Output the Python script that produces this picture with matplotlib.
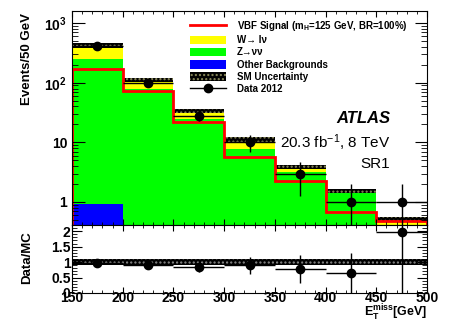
import numpy as np
import matplotlib
matplotlib.use('Agg')
import matplotlib.pyplot as plt
from matplotlib import ticker
from matplotlib.patches import Patch
from matplotlib.lines import Line2D

plt.rcParams['font.family'] = ['Liberation Sans', 'DejaVu Sans']
plt.rcParams['mathtext.fontset'] = 'custom'
plt.rcParams['mathtext.rm'] = 'Liberation Sans'
plt.rcParams['mathtext.bf'] = 'Liberation Sans:bold'
plt.rcParams['mathtext.it'] = 'Liberation Sans:italic'
plt.rcParams['hatch.linewidth'] = 1.0

# E_T^miss bins [GeV]
edges = [150, 200, 250, 300, 350, 400, 450, 500]
data_2012 = [412, 98, 28, 10, 3, 1, 1]
z_nunu = [245, 77.7, 24.4, 7.6, 3.16, 1.38, 0.32]
w_lnu = [180, 32, 9.2, 3.55, 0.68, 0.14, 0.18]
other_bkg = [0.91, 0.3, 0.1, 0.05, 0.02, 0.01, 0.01]
vbf_signal = [170, 72, 21.9, 5.7, 2.25, 0.67, 0.48]
sm_rel_unc = [0.09, 0.08, 0.07, 0.08, 0.08, 0.09, 0.1]
ratio_band = 0.09

edges = np.array(edges, dtype=float)
centers = 0.5 * (edges[1:] + edges[:-1])
data = np.array(data_2012, dtype=float)
other = np.array(other_bkg)
green_top = other + np.array(z_nunu)
total = green_top + np.array(w_lnu)
unc = np.array(sm_rel_unc)

fig = plt.figure(figsize=(4.5, 3.23), dpi=100)
ax = fig.add_axes([0.16, 0.3034, 0.7889, 0.6625])
rax = fig.add_axes([0.16, 0.0929, 0.7889, 0.2105])

# stacked backgrounds, ROOT style (each drawn from the bottom)
base = 1e-3
ax.stairs(total, edges, baseline=base, fill=True, color='#ffff00')
ax.stairs(green_top, edges, baseline=base, fill=True, color='#00ff00')
ax.stairs(other, edges, baseline=base, fill=True, color='#0000ff')
ax.bar(centers, 2 * unc * total, bottom=total * (1 - unc), width=50,
       color='black', edgecolor='#8a8a5a', hatch='....', linewidth=0)
ax.stairs(vbf_signal, edges, baseline=base, color='#ff0000', lw=2)

yerr_lo = np.minimum(np.sqrt(data), data - 1e-4)
ax.errorbar(centers, data, xerr=25, yerr=[yerr_lo, np.sqrt(data)], fmt='o',
            color='black', ms=6, lw=1, capsize=0)

ax.set_yscale('log')
ax.set_xlim(150, 500)
ax.set_ylim(0.41, 1600)
ax.yaxis.set_major_locator(ticker.FixedLocator([1, 10, 100, 1000]))
ax.yaxis.set_major_formatter(ticker.FixedFormatter(
    ['1', '10', r'$\mathbf{10^{2}}$', r'$\mathbf{10^{3}}$']))
ax.yaxis.set_minor_locator(ticker.LogLocator(subs=np.arange(2, 10)))
ax.yaxis.set_minor_formatter(ticker.NullFormatter())
ax.xaxis.set_major_locator(ticker.MultipleLocator(50))
ax.xaxis.set_minor_locator(ticker.MultipleLocator(10))
ax.tick_params(which='both', direction='in', top=True, right=True,
               labelbottom=False, labelsize=10)
ax.tick_params(axis='y', which='major', length=9)
ax.tick_params(axis='y', which='minor', length=4.5)
ax.tick_params(axis='x', which='major', length=4)
ax.tick_params(axis='x', which='minor', length=2)
for lab in ax.get_yticklabels():
    lab.set_fontweight('bold')

handles = [
    Line2D([], [], color='#ff0000', lw=2),
    Patch(facecolor='#ffff00'),
    Patch(facecolor='#00ff00'),
    Patch(facecolor='#0000ff'),
    Patch(facecolor='black', edgecolor='#8a8a5a', hatch='....', linewidth=0),
    Line2D([], [], color='black', marker='o', ms=6, lw=1),
]
labels = [r'VBF Signal (m$_{\mathbf{H}}$=125 GeV, BR=100%)', 'W→ lν', 'Z→νν',
          'Other Backgrounds', 'SM Uncertainty', 'Data 2012']
ax.legend(handles, labels, loc='upper left', bbox_to_anchor=(0.332, 0.962),
          frameon=False, borderpad=0, borderaxespad=0, handlelength=3.7,
          handleheight=1.0, handletextpad=1.1, labelspacing=0.22,
          prop={'size': 7, 'weight': 'bold'})

ax.text(0.896, 0.5, 'ATLAS', transform=ax.transAxes, ha='right', va='center',
        fontsize=12, fontweight='bold', fontstyle='italic')
ax.text(0.896, 0.383, r'20.3 fb$^{-1}$, 8 TeV', transform=ax.transAxes,
        ha='right', va='center', fontsize=11)
ax.text(0.896, 0.285, 'SR1', transform=ax.transAxes, ha='right', va='center',
        fontsize=11)

# ratio panel
ratio = data / total
ratio_err = np.sqrt(data) / total
rax.fill_between([150, 500], 1 - ratio_band, 1 + ratio_band, color='black',
                 edgecolor='#8a8a8a', hatch='....', linewidth=0)
rax.errorbar(centers, ratio, xerr=25, yerr=ratio_err, fmt='o', color='black',
             ms=6, lw=1, capsize=0)
rax.set_xlim(150, 500)
rax.set_ylim(0, 2.2)
rax.yaxis.set_major_locator(ticker.MultipleLocator(0.5))
rax.yaxis.set_major_formatter(ticker.FuncFormatter(lambda v, p: f'{v:g}'))
rax.yaxis.set_minor_locator(ticker.MultipleLocator(0.1))
rax.xaxis.set_major_locator(ticker.MultipleLocator(50))
rax.xaxis.set_minor_locator(ticker.MultipleLocator(10))
rax.tick_params(which='both', direction='in', top=True, right=True,
                labelsize=10, pad=1)
rax.tick_params(axis='x', which='major', length=4, pad=-1.5)
rax.tick_params(axis='y', which='major', length=7)
rax.tick_params(axis='y', which='minor', length=3.5)
rax.tick_params(axis='x', which='minor', length=2)
for lab in rax.get_xticklabels() + rax.get_yticklabels():
    lab.set_fontweight('bold')

fig.text(27 / 450, 1 - 13 / 323, 'Events/50 GeV', rotation=90, ha='center',
         va='top', fontsize=9.5, fontweight='bold')
fig.text(27 / 450, 1 - 258 / 323, 'Data/MC', rotation=90, ha='center',
         va='center', fontsize=9.5, fontweight='bold')
fig.text(427 / 450, 0.0, r'$\mathbf{E}_{\mathbf{T}}^{\mathbf{miss}}$[GeV]',
         ha='right', va='bottom', fontsize=9, fontweight='bold')

fig.savefig('out.png', dpi=100)
